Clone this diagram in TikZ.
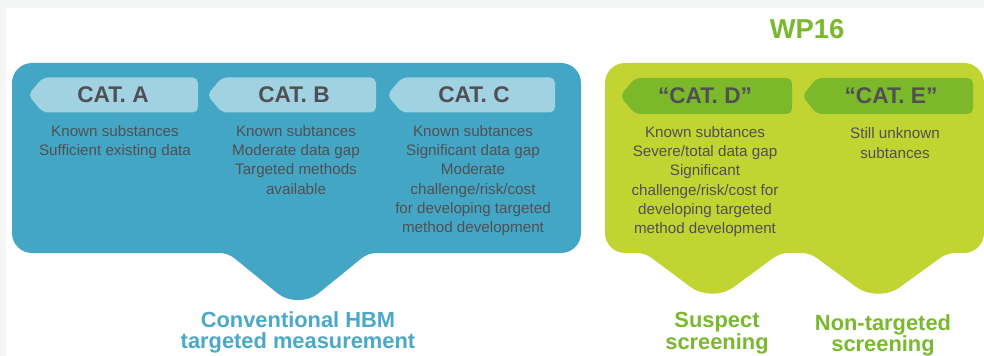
\documentclass[tikz,border=0pt]{standalone}
\usepackage{fontspec}
\setmainfont{Liberation Sans}
\definecolor{bggray}{RGB}{244,246,246}
\definecolor{boxblue}{RGB}{67,166,196}
\definecolor{tabblue}{RGB}{160,210,226}
\definecolor{boxgreen}{RGB}{194,212,50}
\definecolor{tabgreen}{RGB}{124,185,42}
\definecolor{textgray}{RGB}{80,80,84}
\definecolor{labelblue}{RGB}{74,169,200}
\definecolor{labelgreen}{RGB}{122,185,46}
\begin{document}
\begin{tikzpicture}[x=0.75pt,y=-0.75pt]
    \tikzstyle{every node}+=[inner sep=0pt]
    \tikzstyle{tabtext}=[font=\fontsize{17}{20}\selectfont\bfseries, text=textgray]
    \tikzstyle{bodytext}=[font=\fontsize{11.4}{14.5}\selectfont, text=textgray, align=center, anchor=north]
    \tikzstyle{footlabel}=[font=\fontsize{16.4}{16.2}\selectfont\bfseries, align=center, anchor=north]
    \useasboundingbox (0,0) rectangle (984,356);
    \fill [bggray] (0,0) rectangle (984,356);
    \fill [white] (6,8) rectangle (984,356);
    % conventional box
    \fill [boxblue] (12,160) [rounded corners=15pt] -- (12,63) -- (581,63) -- (581,253)
        [rounded corners=6pt] -- (368,253) [rounded corners=20pt] -- (298,310)
        [rounded corners=6pt] -- (228,253) [rounded corners=15pt] -- (12,253) -- cycle;
    % WP16 box
    \fill [boxgreen] (605,160) [rounded corners=15pt] -- (605,63) -- (984,63) -- (984,253)
        [rounded corners=6pt] -- (947,253) [rounded corners=20pt] -- (878,303)
        [rounded corners=6pt] -- (810,253) -- (780,253) [rounded corners=20pt] -- (712,303)
        [rounded corners=6pt] -- (645,253) [rounded corners=15pt] -- (605,253) -- cycle;
    \foreach \xa/\xb in {28/198, 207/376, 387/555}
        \fill [tabblue, rounded corners=4pt] (\xa,95) -- (\xa+15,77.5) -- (\xb,77.5) -- (\xb,112.5) -- (\xa+15,112.5) -- cycle;
    \foreach \xa/\xb in {620/792, 802/973}
        \fill [tabgreen, rounded corners=4pt] (\xa,96) -- (\xa+15,78) -- (\xb,78) -- (\xb,114) -- (\xa+15,114) -- cycle;
    \node [tabtext] (catA) at (113,95) {CAT. A};
    \node [tabtext] (catB) at (294,95) {CAT. B};
    \node [tabtext] (catC) at (474,95) {CAT. C};
    \node [tabtext] (catD) at (705,96) {“CAT. D”};
    \node [tabtext] (catE) at (891,96) {“CAT. E”};
    \node [bodytext] (bodyA) at (115,125) {Known substances\\Sufficient existing data};
    \node [bodytext] (bodyB) at (296,125) {Known subtances\\Moderate data gap\\Targeted methods\\available};
    \node [bodytext] (bodyC) at (473,125) {Known subtances\\Significant data gap\\Moderate\\challenge/risk/cost\\for developing targeted\\method development};
    \node [bodytext] (bodyD) at (705,126) {Known subtances\\Severe/total data gap\\Significant\\challenge/risk/cost for\\developing targeted\\method development};
    \node [bodytext] (bodyE) at (895,127.5) {Still unknown\\subtances};
    \node [font=\fontsize{20.5}{22}\selectfont\bfseries, text=labelgreen] (wp) at (807,29) {WP16};
    \node [footlabel, text=labelblue] (conv) at (298,311) {Conventional HBM\\targeted measurement};
    \node [footlabel, text=labelgreen] (suspect) at (717,312) {Suspect\\screening};
    \node [footlabel, text=labelgreen] (nontarget) at (883,314) {Non-targeted\\screening};
\end{tikzpicture}
\end{document}
